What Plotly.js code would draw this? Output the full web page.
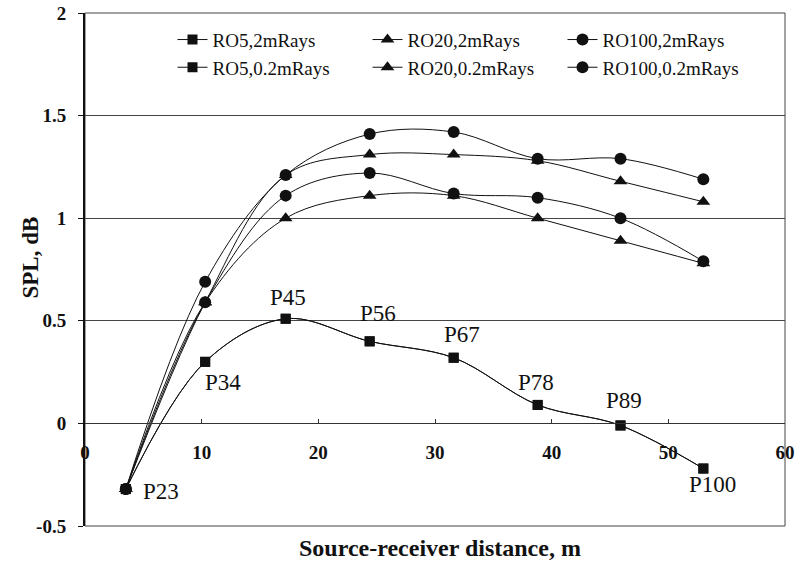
<!DOCTYPE html>
<html>
<head>
<meta charset="utf-8">
<script src="https://cdn.plot.ly/plotly-3.0.1.min.js"></script>
<style>html,body{margin:0;padding:0;background:#fff;}#chart{width:795px;height:561px;}</style>
</head>
<body>
<div id="chart"></div>
<script>
// ---- data ----
const distance = [3.5, 10.3, 17.2, 24.4, 31.6, 38.8, 45.9, 53.0];
const pointLabels = ['P23', 'P34', 'P45', 'P56', 'P67', 'P78', 'P89', 'P100'];
const seriesNames = ['RO5,2mRays', 'RO20,2mRays', 'RO100,2mRays', 'RO5,0.2mRays', 'RO20,0.2mRays', 'RO100,0.2mRays'];
const ro5_2m    = [-0.32, 0.30, 0.51, 0.40, 0.32, 0.09, -0.01, -0.22];
const ro20_2m   = [-0.32, 0.59, 1.21, 1.31, 1.31, 1.28, 1.18, 1.08];
const ro100_2m  = [-0.32, 0.69, 1.21, 1.41, 1.42, 1.29, 1.29, 1.19];
const ro5_02m   = [-0.32, 0.30, 0.51, 0.40, 0.32, 0.09, -0.01, -0.22];
const ro20_02m  = [-0.32, 0.59, 1.00, 1.11, 1.11, 1.00, 0.89, 0.78];
const ro100_02m = [-0.32, 0.59, 1.11, 1.22, 1.12, 1.10, 1.00, 0.79];
const yTickVals = [-0.5, 0, 0.5, 1, 1.5, 2];
const yTickText = ['-0.5', '0', '0.5', '1', '1.5', '2'];
const xTickVals = [0, 10, 20, 30, 40, 50, 60];
const xTickText = ['0', '10', '20', '30', '40', '50', '60'];
const xTitle = 'Source-receiver distance, m';
const yTitle = 'SPL, dB';

// ---- styles ----
const serif = 'Liberation Serif, Times New Roman, serif';
const ink = '#111';
const seriesValues = [ro5_2m, ro20_2m, ro100_2m, ro5_02m, ro20_02m, ro100_02m];
const symbols = ['square', 'triangle-up', 'circle', 'square', 'triangle-up', 'circle'];
const sizes = [10, 12, 12, 10, 12, 12];

const traces = seriesValues.map((vals, i) => ({
  type: 'scatter', mode: 'lines+markers', name: seriesNames[i],
  x: distance, y: vals,
  line: {color: ink, width: 1, shape: 'spline', smoothing: 1},
  marker: {symbol: symbols[i], size: sizes[i], color: ink},
  cliponaxis: false
}));

const labelShift = [[35, -2], [18, -21], [2, 21], [8, 28], [8, 23], [-2, 22], [3, 25], [9, -16]];
const annotations = pointLabels.map((t, i) => ({
  x: distance[i], y: ro5_2m[i], xref: 'x', yref: 'y', text: t, showarrow: false,
  xshift: labelShift[i][0], yshift: labelShift[i][1],
  font: {family: serif, size: 23, color: ink}
}));

const layout = {
  width: 795, height: 561,
  margin: {l: 85, r: 10, t: 13, b: 35},
  paper_bgcolor: '#fff', plot_bgcolor: '#fff',
  showlegend: true,
  legend: {
    orientation: 'h', x: 0.125, y: 0.985, xanchor: 'left', yanchor: 'top',
    entrywidth: 150, entrywidthmode: 'pixels',
    font: {family: serif, size: 19, color: ink}, bgcolor: 'rgba(0,0,0,0)',
    tracegroupgap: 0, itemwidth: 30
  },
  xaxis: {
    range: [0, 60], anchor: 'free', position: 0.2,
    tickvals: xTickVals, ticktext: xTickText,
    showgrid: false, zeroline: false,
    showline: true, linecolor: '#333', linewidth: 1,
    ticks: 'inside', ticklen: 4, tickcolor: '#333',
    ticklabelstandoff: 12,
    tickfont: {family: serif, size: 19, color: ink, weight: 'bold'}
  },
  yaxis: {
    range: [-0.5, 2], tickvals: yTickVals, ticktext: yTickText,
    showgrid: true, gridcolor: '#444', gridwidth: 1, zeroline: false,
    showline: true, linecolor: ink, linewidth: 2,
    ticks: 'outside', ticklen: 5, tickcolor: ink,
    ticklabelstandoff: 8,
    tickfont: {family: serif, size: 19, color: ink, weight: 'bold'}
  },
  shapes: [{
    type: 'rect', xref: 'paper', yref: 'paper', x0: 0, x1: 1, y0: 0, y1: 1,
    line: {color: '#444', width: 1}, layer: 'below'
  }],
  annotations: annotations.concat([{
    xref: 'paper', yref: 'paper', x: 0.5, y: 0, xshift: 5, yshift: -22, yanchor: 'middle',
    text: xTitle, showarrow: false,
    font: {family: serif, size: 24, color: ink, weight: 'bold'}
  }, {
    xref: 'paper', yref: 'paper', x: 0, y: 0.5, xshift: -55, yshift: 12,
    xanchor: 'center', yanchor: 'middle', textangle: -90,
    text: yTitle, showarrow: false,
    font: {family: serif, size: 23, color: ink, weight: 'bold'}
  }])
};

Plotly.newPlot('chart', traces, layout, {displayModeBar: false, staticPlot: true});
</script>
</body>
</html>
